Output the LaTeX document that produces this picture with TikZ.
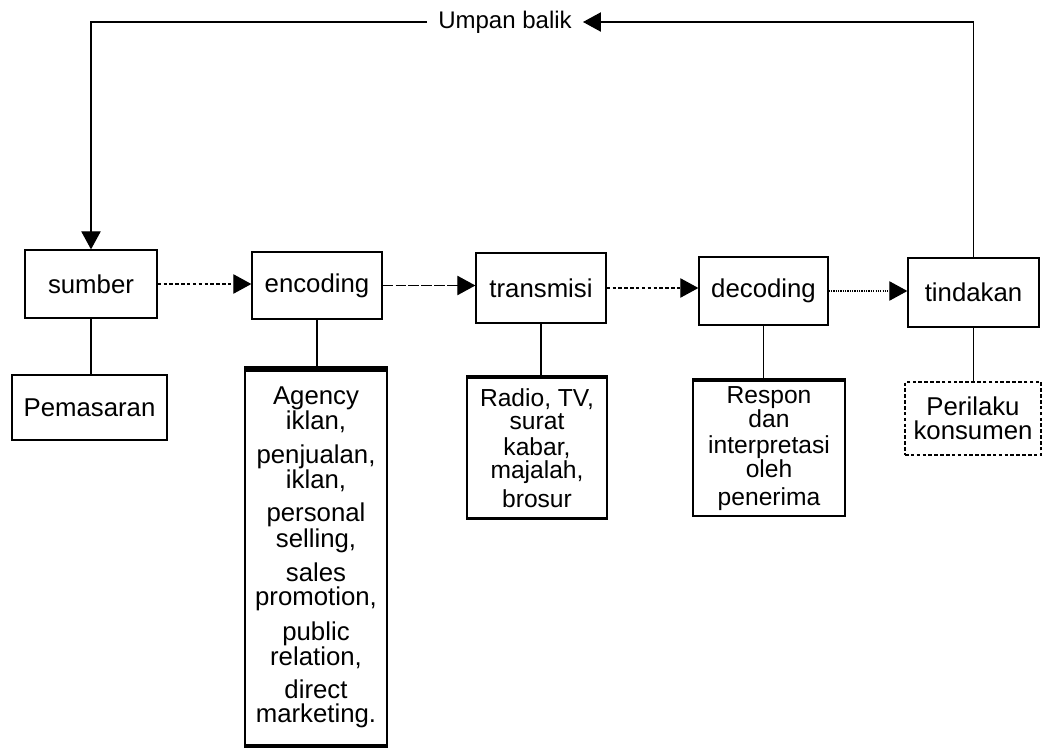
\documentclass[tikz,border=0pt]{standalone}
\usepackage{fontspec}
\setmainfont{Liberation Sans}
\usetikzlibrary{arrows.meta}

\begin{document}
\begin{tikzpicture}[x=0.03cm, y=-0.03cm,
		kotak/.style={draw, line width=1.1pt, inner sep=0pt, align=center, font=\fontsize{22}{20.5}\selectfont},
		tebal/.style={kotak, line width=1.6pt},
		rapat/.style={font=\fontsize{21}{19.5}\selectfont},
		panah/.style={-{Triangle[length=5.4mm, width=5.8mm]}, line width=1pt},
		garis/.style={line width=1.3pt}]
		%%%%% START %%%%%
		\useasboundingbox (0,0) rectangle (1045,752);
		
		% baris atas
		\node[kotak, minimum width=3.96cm, minimum height=2.04cm] (sumber) at (91, 284) {sumber};
		\node[kotak, minimum width=3.9cm, minimum height=2.01cm] (encoding) at (317, 285.5) {encoding};
		\node[kotak, minimum width=3.9cm, minimum height=2.1cm] (transmisi) at (541, 288) {transmisi};
		\node[kotak, minimum width=3.87cm, minimum height=2.04cm] (decoding) at (763.5, 291) {decoding};
		\node[kotak, minimum width=3.93cm, minimum height=2.07cm] (tindakan) at (973.5, 292.5) {tindakan};
		
		% baris bawah
		\node[kotak, minimum width=4.65cm, minimum height=1.95cm] (pemasaran) at (89.5, 407.5) {Pemasaran};
		\node[tebal, minimum width=4.26cm, minimum height=11.25cm] (agency) at (316, 557.5)
			{Agency\\iklan,\\[8pt]penjualan,\\iklan,\\[8pt]personal\\selling,\\[8pt]sales\\promotion,\\[8pt]public\\relation,\\[8pt]direct\\marketing.};
		\node[tebal, rapat, minimum width=4.2cm, minimum height=4.2cm] (media) at (537, 448)
			{Radio, TV,\\surat\\[3pt]kabar,\\majalah,\\[4pt]brosur};
		\node[tebal, rapat, minimum width=4.56cm, minimum height=4.05cm] (respon) at (769, 448.5)
			{Respon\\dan\\[3pt]interpretasi\\oleh\\[4pt]penerima};
		\node[kotak, minimum width=4.08cm, minimum height=2.19cm, densely dashed] (perilaku) at (973, 418.5)
			{Perilaku\\konsumen};
		
		% tepi tebal
		\draw[line width=5pt] (agency.north west) -- (agency.north east);
		\draw[line width=3pt] (agency.south west) -- (agency.south east);
		\draw[line width=3pt] (media.north west) -- (media.north east);
		\draw[line width=2.5pt] (media.south west) -- (media.south east);
		\draw[line width=3pt] (respon.north west) -- (respon.north east);
		
		% umpan balik
		\node[inner xsep=3.3mm, inner ysep=0pt, font=\fontsize{20.5}{22}\selectfont] (umpan) at (505, 22) {Umpan balik};
		\draw[panah] (tindakan.north) |- (umpan.east);
		\draw[panah] (umpan.west) -| (sumber.north);
		
		% alur
		\draw[panah, densely dashed] (sumber.east) -- (sumber.east -| encoding.west);
		\draw[panah, dash pattern=on 9pt off 2pt] (encoding.east) -- (encoding.east -| transmisi.west);
		\draw[panah, densely dashed] (transmisi.east) -- (transmisi.east -| decoding.west);
		\draw[panah, densely dotted] (decoding.east) -- (decoding.east -| tindakan.west);
		
		\draw[garis] (sumber.south) -- (sumber.south |- pemasaran.north);
		\draw[garis] (encoding.south) -- (encoding.south |- agency.north);
		\draw[garis] (transmisi.south) -- (transmisi.south |- media.north);
		\draw[garis] (decoding.south) -- (decoding.south |- respon.north);
		\draw[garis] (tindakan.south) -- (tindakan.south |- perilaku.north);
		
		%%%%% END %%%%%
	\end{tikzpicture}
\end{document}
